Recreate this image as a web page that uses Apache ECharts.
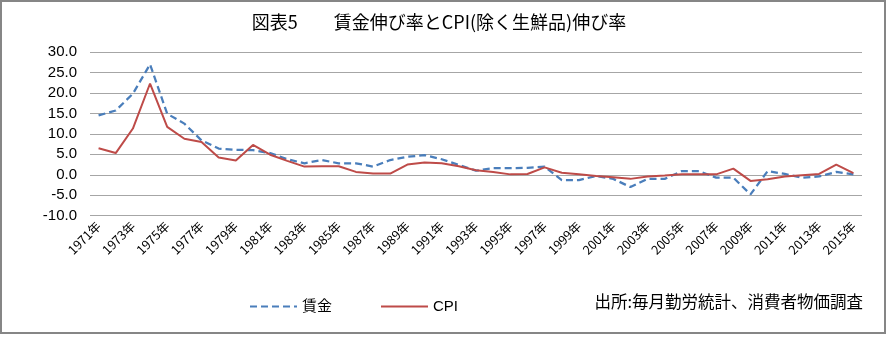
<!DOCTYPE html>
<html><head><meta charset="utf-8">
<script src="https://cdn.jsdelivr.net/npm/echarts@6/dist/echarts.min.js"></script>
<style>html,body{margin:0;padding:0;background:#fff}#c{width:889px;height:337px}</style>
</head><body><div id="c"></div>
<script>
var years = [];
for (var y = 1971; y <= 2015; y++) years.push(y + '年');
var titleText = '図表5　　賃金伸び率とCPI(除く生鮮品)伸び率';
var sourceText = '出所:毎月勤労統計、消費者物価調査';
var wageName = '賃金';
var cpiName = 'CPI';
var wage = [14.5, 15.7, 19.8, 27.0, 14.9, 12.5, 8.4, 6.4, 6.1, 6.0,
            5.3, 3.8, 2.8, 3.6, 2.8, 2.8, 2.0, 3.6, 4.4, 4.8,
            3.8, 2.4, 1.0, 1.6, 1.6, 1.7, 2.0, -1.3, -1.3, -0.3,
            -1.0, -3.0, -1.0, -1.0, 0.9, 0.9, -0.7, -0.7, -4.8, 0.9,
            0.2, -0.7, -0.4, 0.7, 0.1];
var cpi = [6.5, 5.3, 11.3, 22.3, 11.7, 8.8, 8.0, 4.2, 3.5, 7.3,
           4.9, 3.4, 2.0, 2.1, 2.1, 0.7, 0.3, 0.3, 2.5, 3.0,
           2.8, 2.1, 1.1, 0.7, 0.1, 0.2, 1.8, 0.5, 0.1, -0.3,
           -0.6, -1.0, -0.4, -0.2, 0.1, 0.1, 0.1, 1.5, -1.5, -1.1,
           -0.4, -0.1, 0.2, 2.5, 0.4];
var yTicks = {min: -10, max: 30, interval: 5};

var font = '"Liberation Sans", "Noto Sans CJK JP", sans-serif';
var cjk = '"Noto Sans CJK JP", sans-serif';
var chart = echarts.init(document.getElementById('c'), null, {renderer: 'canvas'});
chart.setOption({
  animation: false,
  backgroundColor: '#fff',
  title: {
    text: titleText, left: 434, top: 8, textAlign: 'center',
    textStyle: {fontSize: 18, fontWeight: 'normal', color: '#000', fontFamily: cjk}
  },
  grid: {left: 90, right: 27, top: 52, bottom: 121.3, containLabel: false},
  legend: {
    left: 244, top: 294, itemWidth: 47, itemHeight: 10, itemGap: 48,
    itemStyle: {color: 'rgba(0,0,0,0)', borderColor: 'rgba(0,0,0,0)', borderWidth: 0},
    textStyle: {fontSize: 15, color: '#000', fontFamily: font},
    data: [wageName, cpiName]
  },
  xAxis: {
    type: 'category', data: years, boundaryGap: true,
    axisLine: {show: false}, axisTick: {show: false},
    axisLabel: {interval: 1, rotate: 45, fontSize: 12.5, color: '#000', margin: 8, fontFamily: cjk}
  },
  yAxis: {
    type: 'value', min: yTicks.min, max: yTicks.max, interval: yTicks.interval,
    axisLine: {show: false}, axisTick: {show: false},
    axisLabel: {fontSize: 15, color: '#000', margin: 13, fontFamily: font,
      formatter: function (v) { return v.toFixed(1); }},
    splitLine: {lineStyle: {color: '#a6a6a6', width: 1}}
  },
  series: [
    {name: wageName, type: 'line', data: wage, symbol: 'none',
     lineStyle: {color: '#4a7ebb', width: 2.25, type: [7, 4]}, itemStyle: {color: '#4a7ebb'}},
    {name: cpiName, type: 'line', data: cpi, symbol: 'none',
     lineStyle: {color: '#be4b48', width: 2}, itemStyle: {color: '#be4b48'}}
  ],
  graphic: [
    {type: 'rect', shape: {x: 1, y: 1, width: 884, height: 332}, silent: true,
     style: {fill: 'none', stroke: '#868686', lineWidth: 2}},
    {type: 'text', right: 26, top: 293,
     style: {text: sourceText, fontSize: 16.5, fill: '#000', fontFamily: cjk}}
  ]
});
</script></body></html>
